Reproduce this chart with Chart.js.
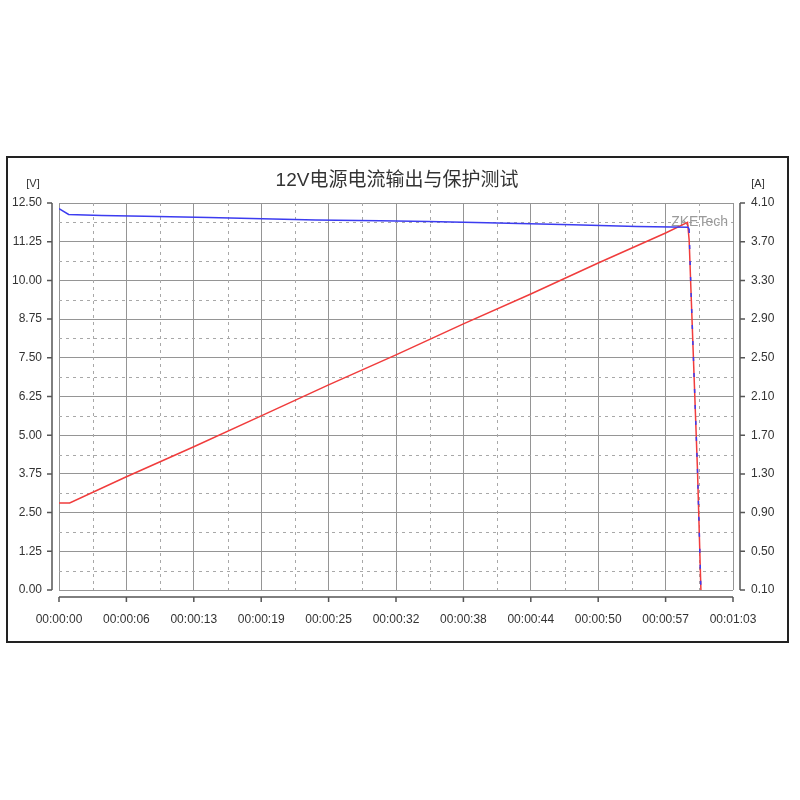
<!DOCTYPE html>
<html>
<head>
<meta charset="utf-8">
<script src="https://cdn.jsdelivr.net/npm/chart.js@4/dist/chart.umd.min.js"></script>
<style>
  html, body { margin: 0; padding: 0; background: #fff; }
  #wrap { width: 800px; height: 800px; }
</style>
</head>
<body>
<div id="wrap"><canvas id="grafico" width="800" height="800"></canvas></div>
<script>
// Datos
const tituloGrafico = '12V电源电流输出与保护测试';
const unidadIzq = '[V]';
const unidadDer = '[A]';
const marcaAgua = 'ZKETech';

// Tensión (eje izquierdo) en función del tiempo (s)
const tiempoTension = [0, 0.9, 4.0, 8.0, 14.0, 20.0, 24.0, 30.0, 34.5, 40.0, 48.0, 54.0, 58.8, 58.9, 59.07, 59.68, 60.0];
const valoresTension = [12.32, 12.13, 12.10, 12.07, 12.03, 11.98, 11.95, 11.93, 11.90, 11.86, 11.80, 11.74, 11.72, 11.66, 9.70, 3.90, 0.00];

// Corriente (eje derecho) en función del tiempo (s)
const tiempoCorriente = [0, 1.0, 6.3, 12.6, 18.9, 25.2, 31.5, 37.8, 44.1, 50.4, 56.7, 58.75, 58.9, 59.07, 59.68, 60.0];
const valoresCorriente = [1.00, 1.00, 1.27, 1.58, 1.90, 2.22, 2.53, 2.85, 3.16, 3.48, 3.79, 3.90, 3.72, 3.20, 1.34, 0.10];

// Ejes
const ejeTiempo = { min: 0, max: 63, paso: 6.3 };
const ejeTension = { min: 0, max: 12.5, paso: 1.25 };
const ejeCorriente = { min: 0.1, max: 4.1, paso: 0.4 };

function formatoHora(seg) {
    const s = Math.round(seg + 1e-6);
    const h = Math.floor(s / 3600);
    const m = Math.floor((s % 3600) / 60);
    const r = s % 60;
    const dos = n => String(n).padStart(2, '0');
    return `${dos(h)}:${dos(m)}:${dos(r)}`;
}

const colorRejilla = '#959595';
const colorPunteado = '#a8a8a8';
const colorEje = '#555555';

// Plugin: marco, título, ejes separados y rejilla punteada
const decoracion = {
    id: 'decoracion',
    beforeDatasetsDraw(chart) {
        const { ctx, chartArea } = chart;
        const x = chart.scales.x, y = chart.scales.y;
        ctx.save();
        ctx.strokeStyle = colorPunteado;
        ctx.lineWidth = 1;
        ctx.setLineDash([3, 4]);
        for (let i = 0; i < x.ticks.length - 1; i++) {
            const px = Math.round((x.getPixelForValue(x.ticks[i].value) + x.getPixelForValue(x.ticks[i + 1].value)) / 2) + 0.5;
            ctx.beginPath();
            ctx.moveTo(px, chartArea.top);
            ctx.lineTo(px, chartArea.bottom);
            ctx.stroke();
        }
        for (let i = 0; i < y.ticks.length - 1; i++) {
            const py = Math.round((y.getPixelForValue(y.ticks[i].value) + y.getPixelForValue(y.ticks[i + 1].value)) / 2) + 0.5;
            ctx.beginPath();
            ctx.moveTo(chartArea.left, py);
            ctx.lineTo(chartArea.right, py);
            ctx.stroke();
        }
        ctx.setLineDash([]);
        // marca de agua
        ctx.fillStyle = '#9a9a9a';
        ctx.font = "14px 'Liberation Sans', Arial, sans-serif";
        ctx.textAlign = 'right';
        ctx.textBaseline = 'middle';
        ctx.fillText(marcaAgua, chartArea.right - 5, chartArea.top + 19);
        ctx.restore();
    },
    afterDraw(chart) {
        const { ctx, chartArea } = chart;
        const x = chart.scales.x, y = chart.scales.y, y1 = chart.scales.y1;
        ctx.save();
        // marco exterior
        ctx.strokeStyle = '#222';
        ctx.lineWidth = 2;
        ctx.strokeRect(7, 157, 781, 485);

        // título
        ctx.fillStyle = '#333';
        ctx.textAlign = 'center';
        ctx.textBaseline = 'middle';
        ctx.font = "19px 'Liberation Sans', 'Noto Sans CJK SC', sans-serif";
        ctx.fillText(tituloGrafico, 397, 181);

        ctx.font = "11px 'Liberation Sans', Arial, sans-serif";
        ctx.fillText(unidadIzq, 33, 184);
        ctx.fillText(unidadDer, 758, 184);

        // ejes separados del área de trazado
        ctx.strokeStyle = colorEje;
        ctx.lineWidth = 1.5;
        const xl = chartArea.left - 7, xr = chartArea.right + 7, yb = chartArea.bottom + 7;
        ctx.beginPath();
        ctx.moveTo(xl, chartArea.top);
        ctx.lineTo(xl, chartArea.bottom);
        y.ticks.forEach(t => {
            const py = y.getPixelForValue(t.value);
            ctx.moveTo(xl - 5, py);
            ctx.lineTo(xl, py);
        });
        ctx.moveTo(xr, chartArea.top);
        ctx.lineTo(xr, chartArea.bottom);
        y1.ticks.forEach(t => {
            const py = y1.getPixelForValue(t.value);
            ctx.moveTo(xr, py);
            ctx.lineTo(xr + 5, py);
        });
        ctx.moveTo(chartArea.left, yb);
        ctx.lineTo(chartArea.right, yb);
        x.ticks.forEach(t => {
            const px = x.getPixelForValue(t.value);
            ctx.moveTo(px, yb);
            ctx.lineTo(px, yb + 5);
        });
        ctx.stroke();
        ctx.restore();
    }
};

Chart.defaults.font.family = "'Liberation Sans', Arial, sans-serif";
Chart.defaults.font.size = 12;
Chart.defaults.color = '#333';

new Chart(document.getElementById('grafico'), {
    type: 'line',
    data: {
        datasets: [{
            label: 'Tensión',
            data: tiempoTension.map((t, i) => ({ x: t, y: valoresTension[i] })),
            yAxisID: 'y',
            borderColor: '#3c3cf0',
            borderWidth: 1.5,
            pointRadius: 0,
            tension: 0,
            segment: {
                borderDash: c => c.p0.parsed.x >= 58.85 ? [4, 12] : undefined
            }
        }, {
            label: 'Corriente',
            data: tiempoCorriente.map((t, i) => ({ x: t, y: valoresCorriente[i] })),
            yAxisID: 'y1',
            borderColor: '#f03c3c',
            borderWidth: 1.5,
            pointRadius: 0,
            tension: 0
        }]
    },
    options: {
        responsive: false,
        animation: false,
        layout: { padding: { top: 203, left: 0, right: 0, bottom: 0 } },
        plugins: {
            legend: { display: false },
            tooltip: { enabled: false }
        },
        scales: {
            x: {
                type: 'linear',
                position: 'bottom',
                min: ejeTiempo.min,
                max: ejeTiempo.max,
                afterFit: s => { s.height = 210; },
                ticks: {
                    stepSize: ejeTiempo.paso,
                    autoSkip: false,
                    maxRotation: 0,
                    padding: 22,
                    callback: v => formatoHora(v)
                },
                grid: { color: colorRejilla, lineWidth: 1, drawTicks: false },
                border: { display: false }
            },
            y: {
                position: 'left',
                min: ejeTension.min,
                max: ejeTension.max,
                afterFit: s => { s.width = 59; },
                ticks: {
                    stepSize: ejeTension.paso,
                    maxTicksLimit: 20,
                    padding: 17,
                    callback: v => Number(v).toFixed(2)
                },
                grid: { color: colorRejilla, lineWidth: 1, drawTicks: false },
                border: { display: false }
            },
            y1: {
                position: 'right',
                min: ejeCorriente.min,
                max: ejeCorriente.max,
                afterFit: s => { s.width = 67; },
                ticks: {
                    stepSize: ejeCorriente.paso,
                    maxTicksLimit: 20,
                    padding: 18,
                    callback: v => Number(v).toFixed(2)
                },
                grid: { drawOnChartArea: false, drawTicks: false },
                border: { display: false }
            }
        }
    },
    plugins: [decoracion]
});
</script>
</body>
</html>
